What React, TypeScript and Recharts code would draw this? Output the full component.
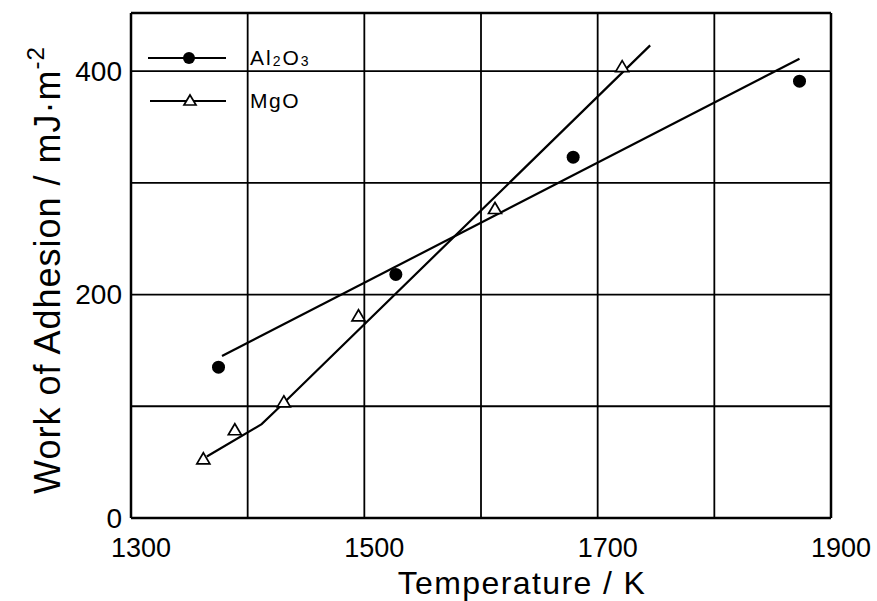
import {
    ComposedChart,
    Line,
    Scatter,
    XAxis,
    YAxis,
    CartesianGrid,
    ReferenceLine,
    Legend,
} from 'recharts'

// measured points
const al2o3Temps = [1375, 1527, 1679, 1873]
const al2o3Work = [135, 218, 323, 391]
const mgoTemps = [1362, 1389, 1431, 1495, 1612, 1721]
const mgoWork = [53, 79, 104, 181, 277, 404]

// hand drawn fit lines
const al2o3FitTemps = [1378, 1873]
const al2o3FitWork = [145, 411]
const mgoFitTemps = [1365, 1412, 1428, 1745]
const mgoFitWork = [55, 84, 100, 423]

const xTicks = [1300, 1400, 1500, 1600, 1700, 1800, 1900]
const xLabels = [1300, 1500, 1700, 1900]
const yTicks = [0, 100, 200, 300, 400]
const yLabels = [0, 200, 400]
const yMax = 452

const toPoints = (xs: number[], ys: number[]) => xs.map((x, i) => ({ x, y: ys[i] }))

const al2o3Points = toPoints(al2o3Temps, al2o3Work)
const mgoPoints = toPoints(mgoTemps, mgoWork)
const al2o3Fit = toPoints(al2o3FitTemps, al2o3FitWork)
const mgoFit = toPoints(mgoFitTemps, mgoFitWork)

const FONT = '"Liberation Sans", Arial, sans-serif'

const Dot = (p: any) => <circle cx={p.cx} cy={p.cy} r={6.5} fill="#000" />

const Tri = (p: any) => (
    <path
        d={`M${p.cx},${p.cy - 6} L${p.cx + 6.5},${p.cy + 5} L${p.cx - 6.5},${p.cy + 5} Z`}
        fill="#fff"
        stroke="#000"
        strokeWidth={1.7}
    />
)

function LegendBox() {
    return (
        <svg width={200} height={80} style={{ display: 'block' }}>
            <line x1={8} y1={18} x2={86} y2={18} stroke="#000" strokeWidth={2.2} />
            <circle cx={49} cy={18} r={6} fill="#000" />
            <text x={110} y={25} fontFamily={FONT} fontSize={21} letterSpacing={2} fill="#000">
                Al
                <tspan fontSize={14} dy={1}>2</tspan>
                <tspan dy={-1}>O</tspan>
                <tspan fontSize={14} dy={1}>3</tspan>
            </text>
            <line x1={10} y1={61} x2={86} y2={61} stroke="#000" strokeWidth={2.2} />
            <path d="M50,55 L56,65 L44,65 Z" fill="#fff" stroke="#000" strokeWidth={1.7} />
            <text x={110} y={68} fontFamily={FONT} fontSize={21} letterSpacing={1.5} fill="#000">
                MgO
            </text>
        </svg>
    )
}

function App() {
    return (
        <div style={{ position: 'absolute', left: 0, top: 0, width: 877, height: 601, background: '#fff' }}>
            <ComposedChart
                width={877}
                height={601}
                margin={{ top: 13, right: 46, bottom: 0, left: 0 }}
            >
                <CartesianGrid stroke="#000" strokeWidth={1.8} />
                <XAxis
                    type="number"
                    dataKey="x"
                    domain={[1300, 1900]}
                    ticks={xTicks}
                    tickFormatter={(v: number) => (xLabels.includes(v) ? String(v) : '')}
                    height={83}
                    tickSize={0}
                    tickMargin={20}
                    tick={{ fill: '#000', fontSize: 27, fontFamily: FONT, dx: 10 }}
                    axisLine={{ stroke: '#000', strokeWidth: 2.5 }}
                    tickLine={false}
                    interval={0}
                />
                <YAxis
                    type="number"
                    dataKey="y"
                    domain={[0, yMax]}
                    ticks={yTicks}
                    tickFormatter={(v: number) => (yLabels.includes(v) ? String(v) : '')}
                    width={131}
                    tickSize={0}
                    tickMargin={9}
                    tick={{ fill: '#000', fontSize: 28, fontFamily: FONT }}
                    axisLine={{ stroke: '#000', strokeWidth: 2.5 }}
                    tickLine={false}
                    interval={0}
                />
                <ReferenceLine y={yMax} stroke="#000" strokeWidth={2.5} />
                <ReferenceLine x={1900} stroke="#000" strokeWidth={2.5} />
                <Line
                    data={al2o3Fit}
                    dataKey="y"
                    type="linear"
                    stroke="#000"
                    strokeWidth={2.2}
                    dot={false}
                    activeDot={false}
                    isAnimationActive={false}
                    legendType="none"
                />
                <Line
                    data={mgoFit}
                    dataKey="y"
                    type="linear"
                    stroke="#000"
                    strokeWidth={2.2}
                    dot={false}
                    activeDot={false}
                    isAnimationActive={false}
                    legendType="none"
                />
                <Scatter data={al2o3Points} name="Al2O3" shape={Dot} isAnimationActive={false} />
                <Scatter data={mgoPoints} name="MgO" shape={Tri} isAnimationActive={false} />
                <Legend
                    layout="vertical"
                    align="center"
                    verticalAlign="middle"
                    wrapperStyle={{ position: 'absolute', left: 140, top: 40, width: 200, height: 80 }}
                    content={() => <LegendBox />}
                />
            </ComposedChart>
            <svg
                width={877}
                height={601}
                style={{ position: 'absolute', left: 0, top: 0, pointerEvents: 'none' }}
            >
                <text
                    x={522}
                    y={594}
                    textAnchor="middle"
                    fontFamily={FONT}
                    fontSize={32}
                    letterSpacing={1.4}
                    fill="#000"
                >
                    Temperature / K
                </text>
                <text
                    transform="translate(60,270) rotate(-90)"
                    textAnchor="middle"
                    fontFamily={FONT}
                    fontSize={36}
                    letterSpacing={1}
                    fill="#000"
                >
                    Work of  Adhesion / mJ·m
                    <tspan fontSize={24} dy={-16}>-2</tspan>
                </text>
            </svg>
        </div>
    )
}

export default App
